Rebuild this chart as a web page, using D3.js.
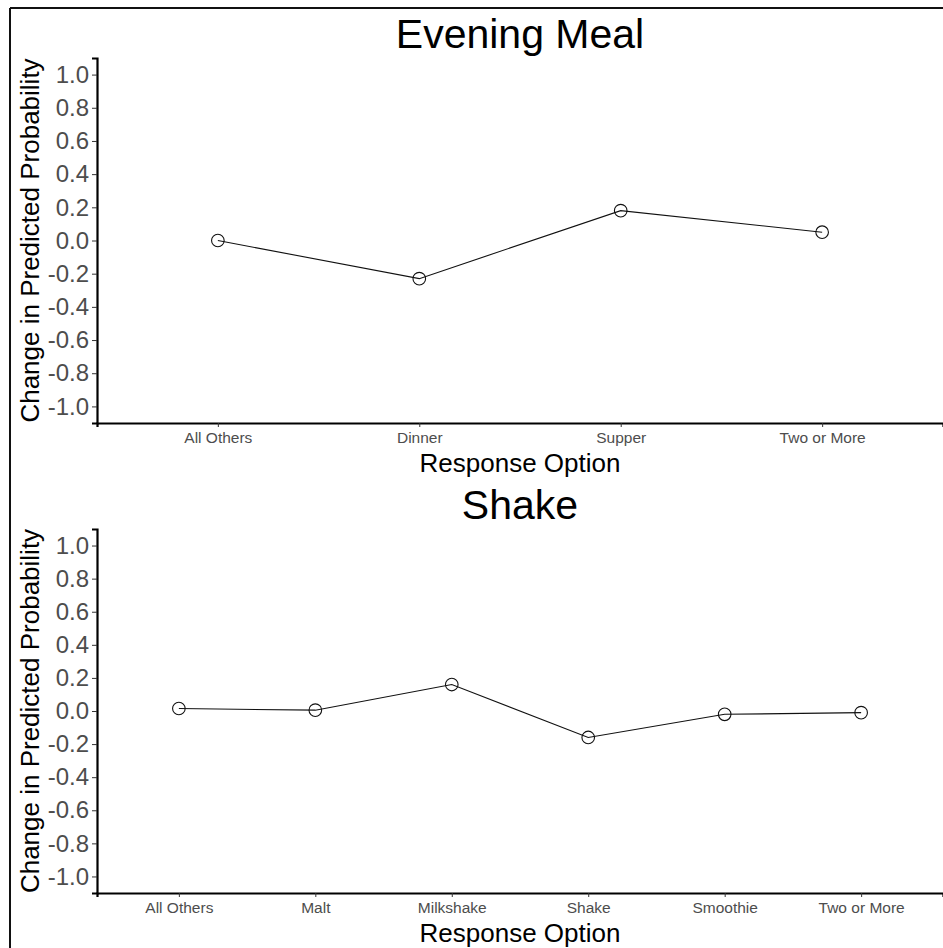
<!DOCTYPE html>
<html>
<head>
<meta charset="utf-8">
<script src="https://cdn.jsdelivr.net/npm/d3@7"></script>
<style>
  html, body { margin: 0; padding: 0; background: #fff; }
  svg { display: block; }
  text { font-family: Arial, "Liberation Sans", sans-serif; }
</style>
</head>
<body>
<svg id="chart" width="943" height="948"></svg>
<script>
// ---- data ----
const titles = ["Evening Meal", "Shake"];
const categories1 = ["All Others", "Dinner", "Supper", "Two or More"];
const values1 = [0.00, -0.23, 0.18, 0.05];
const categories2 = ["All Others", "Malt", "Milkshake", "Shake", "Smoothie", "Two or More"];
const values2 = [0.015, 0.005, 0.16, -0.16, -0.02, -0.01];
const yTicks = [-1.0, -0.8, -0.6, -0.4, -0.2, 0.0, 0.2, 0.4, 0.6, 0.8, 1.0];
const yTitle = "Change in Predicted Probability";
const xTitle = "Response Option";

const svg = d3.select("#chart");
const fmt = (d) => d.toFixed(1);

// outer frame (top and left edges visible)
svg.append("line").attr("x1", 10).attr("x2", 943).attr("y1", 8).attr("y2", 8)
  .attr("stroke", "#111").attr("stroke-width", 2);
svg.append("line").attr("x1", 10).attr("x2", 10).attr("y1", 8).attr("y2", 948)
  .attr("stroke", "#111").attr("stroke-width", 2);

function panel(title, cats, vals, top, bottom) {
  const left = 97, right = 943;
  const n = cats.length;
  const x = d3.scaleLinear().domain([0.4, n + 0.6]).range([left, right]);
  const y = d3.scaleLinear().domain([-1.1, 1.1]).range([bottom, top]);
  const g = svg.append("g");

  // title
  g.append("text").attr("x", (left + right) / 2).attr("y", top - 10)
    .attr("text-anchor", "middle").attr("font-size", 41).attr("fill", "#000")
    .text(title);

  // y axis
  const yAxis = d3.axisLeft(y).tickValues(yTicks).tickFormat(fmt).tickSizeOuter(0).tickSize(5).tickPadding(3);
  const ya = g.append("g").attr("transform", `translate(${left},0)`).call(yAxis);
  ya.select(".domain").attr("stroke", "#000").attr("stroke-width", 2.2);
  ya.selectAll(".tick line").attr("stroke", "#333").attr("stroke-width", 1);
  ya.selectAll(".tick text").attr("font-size", 24).attr("fill", "#4d4d4d")
    .attr("font-family", "Arial, 'Liberation Sans', sans-serif");

  // x axis
  const xAxis = d3.axisBottom(x).tickValues(d3.range(1, n + 1))
    .tickFormat((d) => cats[d - 1]).tickSizeOuter(0).tickSize(4).tickPadding(5);
  const xa = g.append("g").attr("transform", `translate(0,${bottom})`).call(xAxis);
  xa.select(".domain").attr("stroke", "#000").attr("stroke-width", 2.2);
  xa.selectAll(".tick line").attr("stroke", "#333").attr("stroke-width", 1);
  xa.selectAll(".tick text").attr("font-size", 15.5).attr("fill", "#4d4d4d")
    .attr("font-family", "Arial, 'Liberation Sans', sans-serif");

  // axis titles
  g.append("text").attr("transform", `translate(38.5,${(top + bottom) / 2}) rotate(-90)`)
    .attr("text-anchor", "middle").attr("font-size", 26).attr("fill", "#000")
    .text(yTitle);
  g.append("text").attr("x", (left + right) / 2).attr("y", bottom + 49)
    .attr("text-anchor", "middle").attr("font-size", 26).attr("fill", "#000")
    .text(xTitle);

  // line + points
  const line = d3.line().x((d, i) => x(i + 1)).y((d) => y(d));
  g.append("path").datum(vals).attr("d", line).attr("fill", "none")
    .attr("stroke", "#111").attr("stroke-width", 1.1);
  g.selectAll("circle.pt").data(vals).join("circle").attr("class", "pt")
    .attr("cx", (d, i) => x(i + 1)).attr("cy", (d) => y(d)).attr("r", 6.3)
    .attr("fill", "none").attr("stroke", "#111").attr("stroke-width", 1.1);
}

panel(titles[0], categories1, values1, 58, 423);
panel(titles[1], categories2, values2, 529, 893);
</script>
</body>
</html>
